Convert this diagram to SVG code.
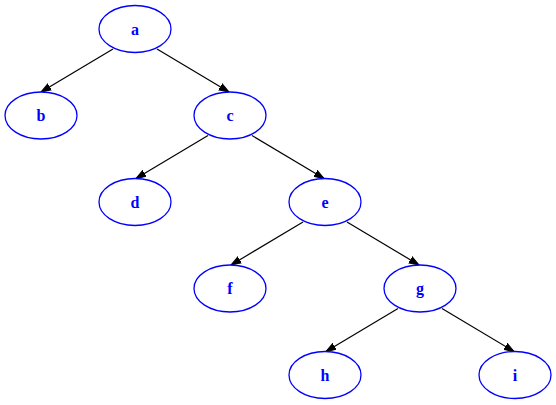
<svg xmlns="http://www.w3.org/2000/svg" width="556" height="405" viewBox="0 0 556 405">
<defs>
<style>
.node ellipse{fill:#fff;stroke:#0000ff;stroke-width:1.3}
.node text{fill:#0000ff;font-family:"Liberation Serif","Times New Roman",serif;font-weight:bold;font-size:16px;text-anchor:middle}
.edges path{fill:none;stroke:#000;stroke-width:1.2;marker-end:url(#arr)}
</style>
<marker id="arr" markerUnits="userSpaceOnUse" markerWidth="12" markerHeight="10" viewBox="0 -5 12 10" refX="10" refY="0" orient="auto">
<path d="M0,-3.5 L10,0 L0,3.5 z" fill="#000" stroke="#000" stroke-width="1"/>
</marker>
</defs>
<rect width="556" height="405" fill="#fff"/>
<g class="edges" id="edges">
<path d="M113,49 L41,92"/>
<path d="M157,49 L229,92"/>
<path d="M208,135.5 L136,178.5"/>
<path d="M252,135.5 L324,178.5"/>
<path d="M303,222 L231,265"/>
<path d="M347,222 L419,265"/>
<path d="M398,308.5 L326,351.5"/>
<path d="M442,308.5 L514,351.5"/>
</g>
<g class="node" id="a"><ellipse cx="135" cy="29" rx="36" ry="23.5"/><text x="135" y="34.5">a</text></g>
<g class="node" id="b"><ellipse cx="41" cy="115.5" rx="36" ry="23.5"/><text x="41" y="121">b</text></g>
<g class="node" id="c"><ellipse cx="230" cy="115.5" rx="36" ry="23.5"/><text x="230" y="121">c</text></g>
<g class="node" id="d"><ellipse cx="135" cy="202" rx="36" ry="23.5"/><text x="135" y="207.5">d</text></g>
<g class="node" id="e"><ellipse cx="325" cy="202" rx="36" ry="23.5"/><text x="325" y="207.5">e</text></g>
<g class="node" id="f"><ellipse cx="230" cy="288.5" rx="36" ry="23.5"/><text x="230" y="294">f</text></g>
<g class="node" id="g"><ellipse cx="420" cy="288.5" rx="36" ry="23.5"/><text x="420" y="294">g</text></g>
<g class="node" id="h"><ellipse cx="325" cy="375" rx="36" ry="23.5"/><text x="325" y="380.5">h</text></g>
<g class="node" id="i"><ellipse cx="515" cy="375" rx="36" ry="23.5"/><text x="515" y="380.5">i</text></g>
</svg>
